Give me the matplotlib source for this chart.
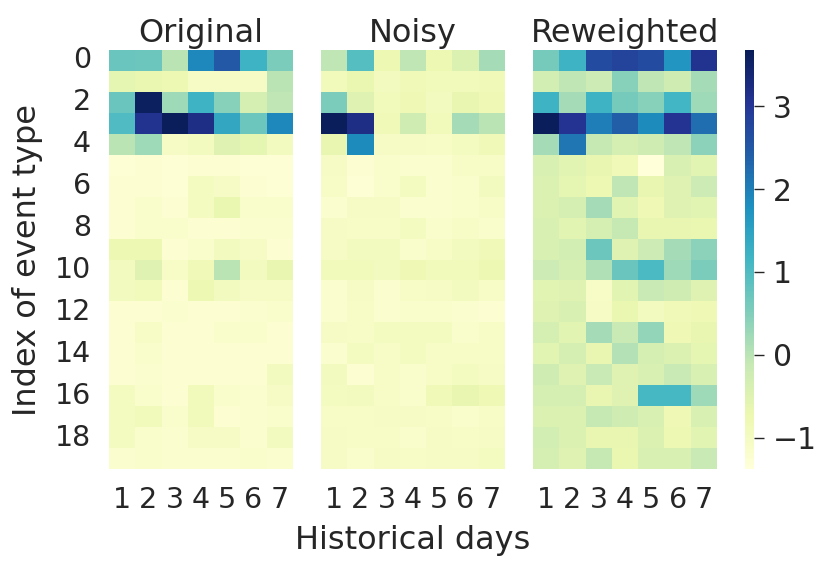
import numpy as np
import matplotlib
matplotlib.use("Agg")
import matplotlib.pyplot as plt
import seaborn as sns

days = [1, 2, 3, 4, 5, 6, 7]
event_types = list(range(20))
titles = ["Original", "Noisy", "Reweighted"]

original = [
    [0.75, 0.7, 0.0, 1.9, 2.5, 1.2, 0.55],
    [-0.6, -0.7, -0.75, -1.05, -1.05, -1.05, 0.0],
    [0.75, 3.6, 0.25, 1.2, 0.45, -0.35, -0.05],
    [1.0, 3.1, 3.65, 3.2, 1.4, 0.7, 1.9],
    [0.0, 0.25, -1.05, -0.95, -0.5, -0.6, -0.95],
    [-1.3, -1.25, -1.3, -1.25, -1.25, -1.3, -1.3],
    [-1.25, -1.25, -1.3, -1.0, -1.05, -1.25, -1.3],
    [-1.25, -1.15, -1.25, -1.0, -0.7, -1.15, -1.15],
    [-1.25, -1.15, -1.15, -1.25, -1.25, -1.2, -1.2],
    [-0.75, -0.75, -1.25, -1.15, -0.95, -1.05, -1.25],
    [-0.95, -0.5, -1.1, -0.85, 0.0, -0.95, -0.65],
    [-0.95, -0.9, -1.25, -0.75, -0.95, -1.05, -1.05],
    [-1.25, -1.25, -1.2, -1.25, -1.25, -1.2, -1.15],
    [-1.25, -1.1, -1.25, -1.25, -1.15, -1.15, -1.25],
    [-1.25, -1.15, -1.25, -1.25, -1.25, -1.25, -1.25],
    [-1.25, -1.2, -1.25, -1.25, -1.25, -1.25, -0.95],
    [-1.0, -1.15, -1.25, -0.9, -1.15, -1.2, -1.05],
    [-1.0, -0.9, -1.15, -0.9, -1.25, -1.2, -1.15],
    [-1.0, -1.15, -1.2, -1.05, -1.05, -1.2, -0.95],
    [-1.2, -1.15, -1.2, -1.2, -1.2, -1.15, -1.2],
]

noisy = [
    [-0.05, 0.95, -0.75, -0.05, -0.75, -0.45, 0.2],
    [-0.9, -0.7, -0.95, -0.85, -0.9, -0.9, -0.85],
    [0.55, -0.5, -0.9, -0.8, -0.95, -0.65, -0.8],
    [3.65, 3.2, -0.85, -0.25, -0.9, 0.2, 0.0],
    [-0.65, 1.85, -1.05, -1.05, -1.1, -1.0, -0.85],
    [-1.05, -1.25, -1.15, -1.2, -1.2, -1.1, -1.1],
    [-1.1, -1.3, -1.15, -1.0, -1.2, -1.15, -0.95],
    [-1.2, -1.05, -1.05, -1.2, -1.2, -1.15, -1.1],
    [-1.05, -1.1, -1.1, -1.0, -1.15, -1.1, -1.15],
    [-1.05, -0.95, -0.95, -1.15, -1.1, -0.95, -0.85],
    [-0.9, -0.9, -0.95, -0.8, -0.9, -0.9, -0.75],
    [-1.2, -1.05, -1.2, -1.1, -1.05, -0.95, -1.1],
    [-1.2, -1.1, -1.2, -1.15, -1.15, -1.2, -1.25],
    [-1.05, -1.1, -1.0, -1.0, -1.0, -1.15, -1.1],
    [-1.2, -1.0, -1.1, -1.0, -1.1, -1.1, -1.1],
    [-0.95, -1.25, -1.1, -1.15, -1.1, -1.0, -1.05],
    [-1.0, -0.95, -1.1, -1.15, -0.85, -0.65, -0.8],
    [-1.1, -1.1, -1.05, -1.05, -1.1, -1.15, -1.1],
    [-1.05, -1.1, -1.1, -1.15, -1.05, -1.1, -1.05],
    [-1.05, -1.15, -1.05, -1.1, -1.05, -1.05, -1.0],
]

reweighted = [
    [0.6, 1.2, 2.7, 2.8, 2.7, 1.7, 3.1],
    [-0.3, -0.05, -0.2, 0.45, -0.05, -0.25, 0.2],
    [1.2, 0.2, 1.2, 0.6, 0.45, 1.15, 0.25],
    [3.65, 3.05, 2.0, 2.4, 1.85, 3.05, 2.2],
    [0.2, 2.1, -0.1, -0.35, -0.25, -0.05, 0.4],
    [-0.4, -0.55, -0.65, -0.85, -1.38, -0.4, -0.55],
    [-0.45, -0.6, -0.75, -0.05, -0.65, -0.5, -0.2],
    [-0.45, -0.35, 0.2, -0.55, -0.8, -0.5, -0.55],
    [-0.4, -0.55, -0.35, -0.1, -0.65, -0.65, -0.7],
    [-0.4, -0.3, 0.7, -0.5, -0.2, 0.2, 0.4],
    [-0.2, -0.35, 0.1, 0.75, 1.05, 0.25, 0.55],
    [-0.55, -0.5, -1.1, -0.55, -0.15, -0.25, -0.5],
    [-0.5, -0.4, -1.05, -0.7, -0.95, -0.85, -0.8],
    [-0.35, -0.55, 0.2, -0.15, 0.35, -0.8, -0.65],
    [-0.55, -0.35, -0.65, 0.05, -0.35, -0.45, -0.6],
    [-0.25, -0.5, -0.15, -0.5, -0.4, -0.15, -0.4],
    [-0.35, -0.35, -0.65, -0.5, 1.1, 1.1, 0.25],
    [-0.45, -0.45, -0.1, -0.25, -0.4, -0.8, -0.4],
    [-0.3, -0.45, -0.65, -0.65, -0.45, -0.75, -0.55],
    [-0.35, -0.5, -0.1, -0.7, -0.4, -0.4, -0.15],
]

vmin, vmax = -1.38, 3.68
text_color = "#262626"

fig = plt.figure(figsize=(8.3, 5.69), dpi=100)
lefts = [0.1313, 0.3867, 0.6422]
bottom, height, width = 0.1757, 0.7364, 0.2217
cax = fig.add_axes([0.8976, bottom, 0.0108, height])

for i, (data, title) in enumerate(zip([original, noisy, reweighted], titles)):
    ax = fig.add_axes([lefts[i], bottom, width, height])
    sns.heatmap(np.array(data), ax=ax, cmap="YlGnBu", vmin=vmin, vmax=vmax,
                cbar=(i == 0), cbar_ax=cax if i == 0 else None,
                xticklabels=days, yticklabels=event_types)
    ax.set_title(title, fontsize=23, color=text_color, pad=6)
    ax.set_xticks(np.arange(len(days)) + 0.5)
    ax.set_xticklabels(days, rotation=0)
    ax.tick_params(axis="x", length=0, pad=12, labelsize=20.5, labelcolor=text_color)
    if i == 0:
        ax.set_yticks(np.arange(0, 20, 2) + 0.5)
        ax.set_yticklabels(event_types[::2], rotation=0)
        ax.tick_params(axis="y", length=0, pad=13, labelsize=20.5, labelcolor=text_color)
        ax.set_ylabel("Index of event type", fontsize=23, color=text_color, labelpad=8)
    else:
        ax.set_yticks([])
    if i == 1:
        ax.set_xlabel("Historical days", fontsize=23, color=text_color, labelpad=8)

cax.tick_params(length=7.5, width=1.0, color=text_color, labelsize=21.5,
                labelcolor=text_color, pad=6)
cax.set_yticks([-1, 0, 1, 2, 3])
for s in cax.spines.values():
    s.set_visible(False)

fig.savefig("out.png", dpi=100)
